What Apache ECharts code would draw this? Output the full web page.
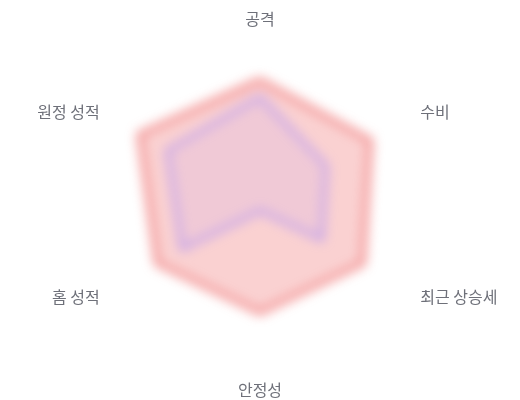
<!DOCTYPE html>
<html>
<head>
<meta charset="UTF-8">
<title>Radar</title>
<script src="https://cdn.jsdelivr.net/npm/echarts@6/dist/echarts.min.js"></script>
<style>
    body { margin: 0; background: #fff; }
    .layer { position: absolute; left: 0; top: 0; width: 520px; height: 400px; }
    #shape { filter: blur(6px); }
</style>
</head>
<body>
    <div id="shape" class="layer"></div>
    <div id="names" class="layer"></div>
    <script>
        // counter-clockwise from the top, as ECharts lays them out
        var indicators = ['공격', '원정 성적', '홈 성적', '안정성', '최근 상승세', '수비'];
        var maxValue = 100;
        var teamA = [73, 82, 70, 64, 70, 75];
        var teamB = [63, 63, 53, 4, 42, 45];

        var radarBase = {
            center: ['50%', '51%'],
            radius: 170,
            startAngle: 90,
            nameGap: 15,
            indicator: indicators.map(function (n) { return { name: n, max: maxValue }; }),
            axisLine: { show: false },
            splitLine: { show: false },
            splitArea: { show: false },
            axisTick: { show: false },
            axisLabel: { show: false }
        };

        // blurred shapes
        var shapeChart = echarts.init(document.getElementById('shape'));
        shapeChart.setOption({
            animation: false,
            radar: Object.assign({}, radarBase, { axisName: { show: false } }),
            series: [{
                type: 'radar',
                symbol: 'none',
                data: [
                    {
                        value: teamA,
                        lineStyle: { color: '#ee6666', width: 4 },
                        areaStyle: { color: '#ee6666', opacity: 0.3 }
                    },
                    {
                        value: teamB,
                        lineStyle: { color: '#a78bfa', width: 3 },
                        areaStyle: { color: '#a78bfa', opacity: 0.12 }
                    }
                ]
            }]
        });

        // sharp axis names on top
        var nameChart = echarts.init(document.getElementById('names'));
        nameChart.setOption({
            animation: false,
            radar: Object.assign({}, radarBase, {
                axisName: { color: '#6E7079', fontSize: 16, lineHeight: 1, fontFamily: 'Noto Sans CJK KR' }
            })
        });
    </script>
</body>
</html>
